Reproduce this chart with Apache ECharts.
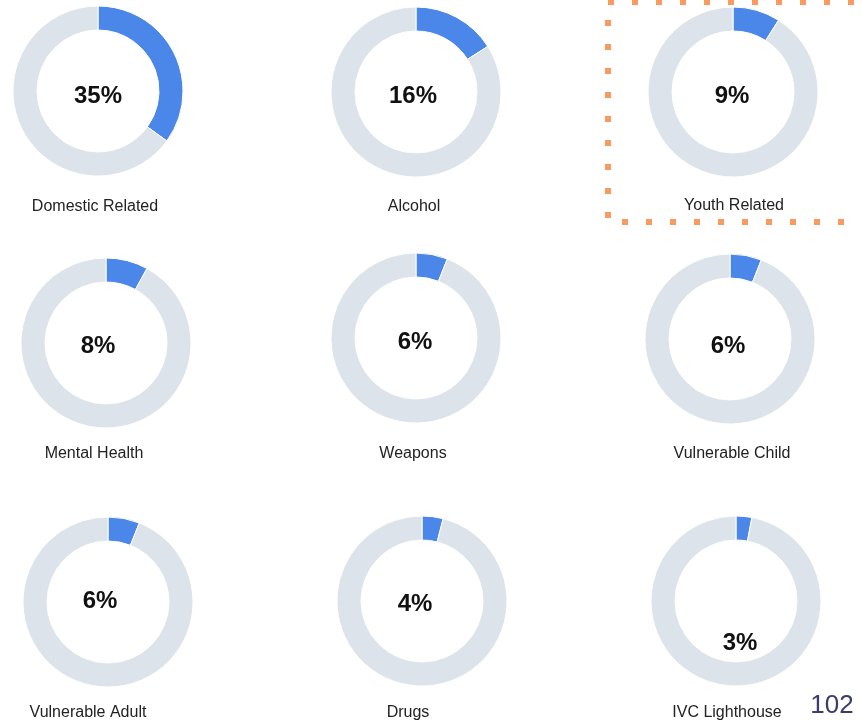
<!DOCTYPE html>
<html>
<head>
<meta charset="utf-8">
<style>
  html, body { margin: 0; padding: 0; background: #ffffff; }
  #chart { width: 862px; height: 721px; }
</style>
<script src="https://cdn.jsdelivr.net/npm/echarts@6/dist/echarts.min.js"></script>
</head>
<body>
<div id="chart"></div>
<script>
// Share of incidents by category (percent)
const categories = [
  'Domestic Related', 'Alcohol', 'Youth Related',
  'Mental Health', 'Weapons', 'Vulnerable Child',
  'Vulnerable Adult', 'Drugs', 'IVC Lighthouse'
];
const shares = [35, 16, 9, 8, 6, 6, 6, 4, 3];
const pageNumber = '102';

// Layout of each ring: centre, position of the percentage text, position of the caption
const centers = [
  [98, 91], [416, 92], [733, 92],
  [106, 343], [416, 338], [730, 339],
  [108, 602], [422, 601], [736, 601]
];
const valuePos = [
  [98, 96], [413, 96], [732, 96],
  [98, 346], [415, 342], [728, 346],
  [100, 601], [415, 604], [740, 643]
];
const captionPos = [
  [95, 207], [414, 207], [734, 206],
  [94, 454], [413, 454], [732, 454],
  [88, 713], [408, 713], [727, 713]
];

const BLUE = '#4a87e8';
const GREY = '#dce3ea';
const FONT = '"Liberation Sans", Arial, Helvetica, sans-serif';

const series = categories.map((name, i) => ({
  type: 'pie',
  name: name,
  center: centers[i],
  radius: [61, 85],
  startAngle: 90,
  clockwise: true,
  silent: true,
  animation: false,
  label: { show: false },
  labelLine: { show: false },
  itemStyle: { borderColor: '#ffffff', borderWidth: 1 },
  data: [
    { name: name, value: shares[i], itemStyle: { color: BLUE } },
    { name: 'Other', value: 100 - shares[i], itemStyle: { color: GREY } }
  ]
}));

const texts = [];
categories.forEach((name, i) => {
  texts.push({
    type: 'text',
    x: valuePos[i][0], y: valuePos[i][1],
    style: {
      text: shares[i] + '%',
      fill: '#111111',
      font: 'bold 24px ' + FONT,
      align: 'center', verticalAlign: 'middle'
    }
  });
  texts.push({
    type: 'text',
    x: captionPos[i][0], y: captionPos[i][1],
    style: {
      text: name,
      fill: '#222222',
      font: '16px ' + FONT,
      align: 'center', verticalAlign: 'middle'
    }
  });
});

// Dotted highlight box around the third category
texts.push({
  type: 'rect',
  shape: { x: 608, y: 2, width: 320, height: 220 },
  style: {
    fill: 'none',
    stroke: '#f99a60',
    lineWidth: 6,
    lineDash: [6, 18]
  },
  z: 10
});

// Page number
texts.push({
  type: 'text',
  x: 832, y: 706,
  style: {
    text: pageNumber,
    fill: '#3b3b6e',
    font: '26px ' + FONT,
    align: 'center', verticalAlign: 'middle'
  }
});

const chart = echarts.init(document.getElementById('chart'), null, { renderer: 'canvas' });
chart.setOption({
  backgroundColor: '#ffffff',
  animation: false,
  series: series,
  graphic: { elements: texts }
});
</script>
</body>
</html>
